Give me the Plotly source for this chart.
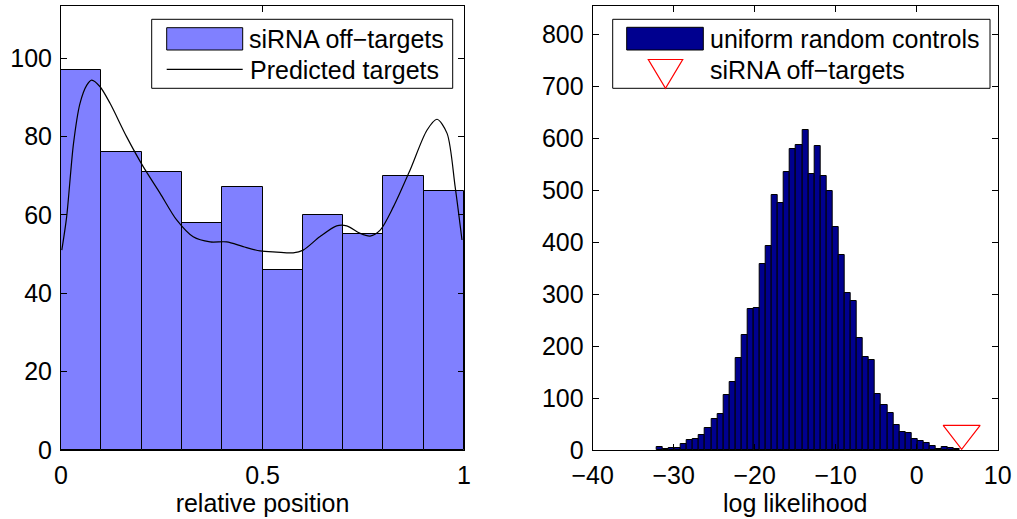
import plotly.graph_objects as go

W, H = 1017, 519

# ---------------- data ----------------
# Left: relative position histogram (10 bins over [0, 1])
pos_bin_start = 0.05
pos_bin_width = 0.1
pos_counts = [97, 76, 71, 58, 67, 46, 60, 55, 70, 66]

pred_x = [0.002, 0.014, 0.031, 0.047, 0.064, 0.076, 0.097, 0.122, 0.163, 0.204,
          0.246, 0.287, 0.328, 0.370, 0.411, 0.452, 0.494, 0.535, 0.576, 0.601,
          0.642, 0.684, 0.709, 0.742, 0.767, 0.792, 0.825, 0.866, 0.908, 0.933,
          0.958, 0.978, 0.995]
pred_y = [51.0, 59.5, 78.2, 88.4, 93.1, 94.4, 92.7, 88.4, 79.9, 72.3,
          65.5, 58.7, 54.4, 53.1, 53.1, 51.9, 50.8, 50.5, 50.3, 51.0,
          54.4, 57.2, 57.2, 55.3, 54.6, 56.1, 62.1, 71.4, 81.6, 84.4,
          80.8, 67.2, 53.6]

# Right: log likelihood histogram of uniform random controls (50 bins)
ll_bin_start = -31.73
ll_bin_width = 0.749
ll_counts = [5, 2, 3, 4, 12, 19, 21, 28, 43, 60,
             69, 105, 131, 177, 222, 271, 274, 358, 393, 490,
             475, 535, 578, 587, 615, 530, 585, 527, 499, 429,
             375, 302, 287, 215, 178, 174, 107, 86, 72, 48,
             35, 33, 22, 17, 13, 8, 1, 6, 4, 2]

sirna_ll_x = [5.55]
sirna_ll_y = [32]

left_xticks = [0, 0.5, 1]
left_yticks = [0, 20, 40, 60, 80, 100]
right_xticks = [-40, -30, -20, -10, 0, 10]
right_yticks = [0, 100, 200, 300, 400, 500, 600, 700, 800]

FONT = "Liberation Sans, Arial, Helvetica, sans-serif"
FS = 25

def px(x):
    return x / W

def py(y):
    return 1 - y / H

fig = go.Figure()

fig.add_trace(go.Bar(
    x0=pos_bin_start, dx=pos_bin_width, y=pos_counts, width=pos_bin_width,
    marker=dict(color="#8080FF", line=dict(color="black", width=1)),
    xaxis="x", yaxis="y", showlegend=False))
fig.add_trace(go.Scatter(
    x=pred_x, y=pred_y, mode="lines", line=dict(color="black", width=1.2, shape="spline", smoothing=0.8),
    xaxis="x", yaxis="y", showlegend=False))

fig.add_trace(go.Bar(
    x0=ll_bin_start, dx=ll_bin_width, y=ll_counts, width=ll_bin_width,
    marker=dict(color="#00008F", line=dict(color="black", width=1)),
    xaxis="x2", yaxis="y2", showlegend=False))
fig.add_trace(go.Scatter(
    x=sirna_ll_x, y=sirna_ll_y, mode="markers",
    marker=dict(symbol="triangle-down-open", size=32, color="red", line=dict(color="red", width=1.2)),
    xaxis="x2", yaxis="y2", showlegend=False, cliponaxis=False))

ax_common = dict(showline=True, linecolor="black", linewidth=1, mirror="ticks",
                 ticks="inside", ticklen=6, tickcolor="black", tickwidth=1,
                 showgrid=False, zeroline=False, automargin=False,
                 tickfont=dict(family=FONT, size=FS, color="black"))

L = (61, 464)
R = (592.7, 997.7)
TOP, BOT = 6, 450

fig.update_layout(
    width=W, height=H, margin=dict(l=0, r=0, t=0, b=0),
    paper_bgcolor="white", plot_bgcolor="white", bargap=0,
    font=dict(family=FONT, size=FS, color="black"),
    xaxis=dict(domain=[px(L[0]), px(L[1])], range=[0, 1], tickvals=left_xticks,
               title=dict(text="relative position", standoff=3, font=dict(family=FONT, size=FS)),
               anchor="y", ticklabelstandoff=3, **ax_common),
    yaxis=dict(domain=[py(BOT), py(TOP)], range=[0, 113.3], tickvals=left_yticks,
               anchor="x", ticklabelstandoff=3, **ax_common),
    xaxis2=dict(domain=[px(R[0]), px(R[1])], range=[-40, 10], tickvals=right_xticks,
                title=dict(text="log likelihood", standoff=3, font=dict(family=FONT, size=FS)),
                anchor="y2", ticklabelstandoff=3, **ax_common),
    yaxis2=dict(domain=[py(BOT), py(TOP)], range=[0, 854], tickvals=right_yticks,
                anchor="x2", ticklabelstandoff=3, **ax_common),
)

shapes = []
annos = []

def rect(x0, y0, x1, y1, fill, lw=1):
    shapes.append(dict(type="rect", xref="paper", yref="paper",
                       x0=px(x0), x1=px(x1), y0=py(y1), y1=py(y0),
                       fillcolor=fill, line=dict(color="black", width=lw), layer="above"))

def text(x, y, s):
    annos.append(dict(xref="paper", yref="paper", x=px(x), y=py(y), text=s, showarrow=False,
                      xanchor="left", yanchor="middle", font=dict(family=FONT, size=FS, color="black")))

# Left legend
rect(151.7, 19.3, 452.7, 88.3, "white")
rect(166.7, 27.7, 242.7, 50, "#8080FF")
shapes.append(dict(type="line", xref="paper", yref="paper", x0=px(166.7), x1=px(242.7),
                   y0=py(69.3), y1=py(69.3), line=dict(color="black", width=1.2), layer="above"))
text(247, 39, "siRNA off\u2212targets")
text(248, 70, "Predicted targets")

# Right legend
rect(612.7, 19.3, 990, 88.3, "white")
rect(626.7, 27.3, 703.3, 50, "#00008F")
tri = "M {},{} L {},{} L {},{} Z".format(px(648.3), py(59.5), px(682.7), py(59.5), px(665.5), py(88.3))
shapes.append(dict(type="path", xref="paper", yref="paper", path=tri,
                   line=dict(color="red", width=1.2), fillcolor="rgba(0,0,0,0)", layer="above"))
text(708, 39, "uniform random controls")
text(708, 70, "siRNA off\u2212targets")

fig.update_layout(shapes=shapes, annotations=annos)

fig.write_html("out.html")
